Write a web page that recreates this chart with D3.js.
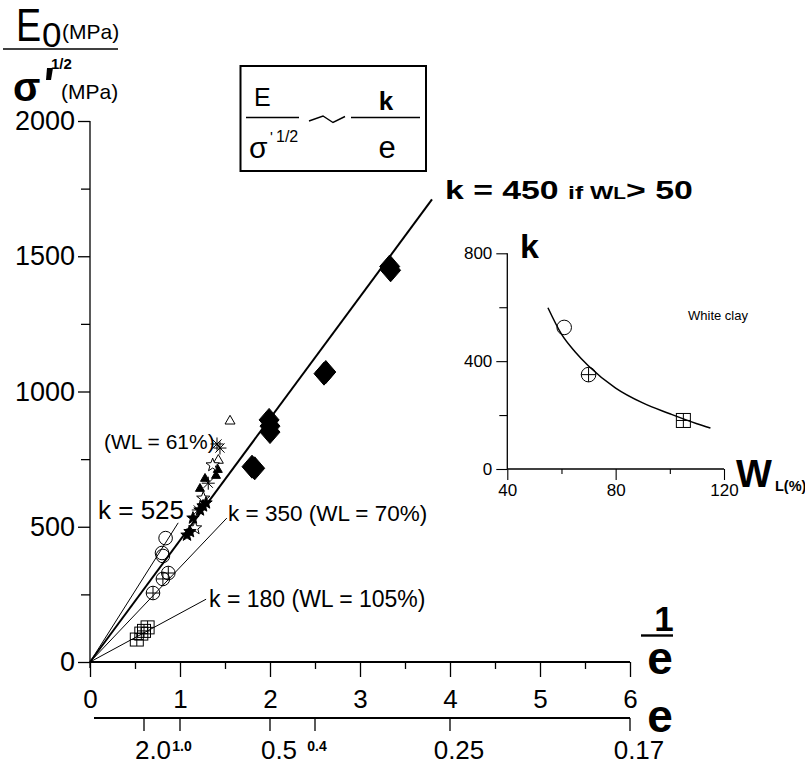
<!DOCTYPE html>
<html><head><meta charset="utf-8">
<script src="https://cdn.jsdelivr.net/npm/d3@7"></script>
<style>
body{margin:0;background:#fff}
svg{display:block;font-family:"Liberation Sans",Arial,Helvetica,sans-serif}
</style>
</head><body>
<svg id="chart" width="805" height="766"></svg>
<script>
// ---- main chart: E0 / sigma'^1/2 versus 1/e ----
const xTicks = [0, 1, 2, 3, 4, 5, 6];
const xMinorTicks = [0.5, 1.5, 2.5, 3.5, 4.5, 5.5];
const yTicks = [0, 500, 1000, 1500, 2000];
const yMinorTicks = [250, 750, 1250, 1750];
// secondary scale: void ratio e placed at its 1/e position
const eTickPos = [0.6, 1, 2, 2.5, 4, 6];
const eTickLabels = ["2.0", "1.0", "0.5", "0.4", "0.25", "0.17"];
const eTickSmall = [false, true, false, true, false, false];

// straight lines E/sigma^1/2 = k * (1/e)
const kLineValues = [525, 450, 350, 180];
const kLineEnds = [0.98, 3.80, 1.52, 1.29];

// measured points (x = 1/e, y = E0/sigma'^1/2)
const diamondX = [3.33, 3.34, 2.62, 2.60, 1.99, 2.00, 2.00, 1.80, 1.83];
const diamondY = [1462, 1448, 1072, 1066, 895, 872, 850, 722, 716];
const circleX = [0.84, 0.80, 0.81];
const circleY = [458, 403, 392];
const crossCircleX = [0.87, 0.81, 0.70];
const crossCircleY = [329, 307, 255];
const boxX = [0.64, 0.60, 0.57, 0.52];
const boxY = [128, 115, 105, 83];
const openTriX = [1.556, 1.426];
const openTriY = [892, 747];
const filledTriX = [1.42, 1.40, 1.278, 1.222];
const filledTriY = [712, 690, 679, 642];
const asteriskX = [1.444, 1.411, 1.314, 1.203];
const asteriskY = [791, 806, 661, 562];
const openStarX = [1.363, 1.259, 1.167];
const openStarY = [728, 605, 495];
const filledStarX = [1.256, 1.222, 1.289, 1.144, 1.111, 1.078];
const filledStarY = [577, 562, 588, 532, 482, 469];

// ---- inset: k versus liquid limit ----
const insetWL = [61, 70, 105];
const insetK = [525, 350, 180];
const fitWL = [55, 60, 65, 70, 80, 90, 100, 110, 115];
const fitK = [598, 500, 435, 382, 300, 245, 205, 168, 152];
const insetXTicks = [40, 80, 120];
const insetXMinor = [60, 100];
const insetYTicks = [0, 400, 800];
const insetYMinor = [200, 600];

const svg = d3.select("#chart");
const x = d3.scaleLinear().domain([0, 6]).range([90, 630]);
const y = d3.scaleLinear().domain([0, 2000]).range([662, 121]);

function txt(g, px, py, s, size, opt = {}) {
  return g.append("text").attr("x", px).attr("y", py)
    .attr("font-size", size)
    .attr("font-weight", opt.bold ? "bold" : "normal")
    .attr("text-anchor", opt.anchor || "start")
    .attr("fill", "#000").text(s);
}
function styleAxis(g, size) {
  g.attr("font-family", null).attr("font-size", null);
  g.select(".domain").remove();
  g.selectAll(".tick line").attr("stroke", "#000").attr("stroke-width", 1.3);
  g.selectAll(".tick text").attr("font-size", size).attr("fill", "#000");
}

// ---- axes ----
const gx = svg.append("g").attr("transform", `translate(0,${y(0)})`)
  .call(d3.axisBottom(x).tickValues(xTicks).tickSize(15).tickPadding(13)
    .tickFormat(d3.format("d")).tickSizeOuter(0));
styleAxis(gx, 26);
const gxm = svg.append("g").attr("transform", `translate(0,${y(0)})`)
  .call(d3.axisBottom(x).tickValues(xMinorTicks).tickSize(7).tickFormat("").tickSizeOuter(0));
styleAxis(gxm, 0);

const gy = svg.append("g").attr("transform", `translate(${x(0)},0)`)
  .call(d3.axisLeft(y).tickValues(yTicks).tickSize(12).tickPadding(3)
    .tickFormat(d3.format("d")).tickSizeOuter(0));
styleAxis(gy, 27);
const gym = svg.append("g").attr("transform", `translate(${x(0)},0)`)
  .call(d3.axisLeft(y).tickValues(yMinorTicks).tickSize(9).tickFormat("").tickSizeOuter(0));
styleAxis(gym, 0);

svg.append("line").attr("x1", x(0)).attr("x2", x(6)).attr("y1", y(0)).attr("y2", y(0))
  .attr("stroke", "#000").attr("stroke-width", 1.8);
svg.append("line").attr("x1", x(0)).attr("x2", x(0)).attr("y1", y(0) + 6).attr("y2", y(2000))
  .attr("stroke", "#000").attr("stroke-width", 1.3);

// secondary e scale
const eY = 718;
svg.append("line").attr("x1", 94).attr("x2", x(6)).attr("y1", eY).attr("y2", eY)
  .attr("stroke", "#000").attr("stroke-width", 1.8);
const eg = svg.append("g");
eTickPos.forEach((p, i) => {
  eg.append("line").attr("x1", x(p)).attr("x2", x(p)).attr("y1", eY).attr("y2", eY + 13)
    .attr("stroke", "#000").attr("stroke-width", 1.3);
  if (eTickSmall[i]) txt(eg, x(p) + 2, 751, eTickLabels[i], 14, {bold: true, anchor: "middle"});
  else txt(eg, x(p) + 9, 759, eTickLabels[i], 26, {anchor: "middle"});
});

// axis titles on the right
txt(svg, 664, 631, "1", 35, {bold: true, anchor: "middle"});
svg.append("line").attr("x1", 641).attr("x2", 673).attr("y1", 635.5).attr("y2", 635.5)
  .attr("stroke", "#000").attr("stroke-width", 2.4);
txt(svg, 660, 674, "e", 46, {bold: true, anchor: "middle"});
txt(svg, 660, 732, "e", 46, {bold: true, anchor: "middle"});

// y title
svg.append("text").attr("transform", "translate(16,41) scale(0.82,1)")
  .attr("font-size", 46).attr("fill", "#000").text("E");
txt(svg, 42, 47, "0", 35);
txt(svg, 62, 39, "(MPa)", 21);
svg.append("line").attr("x1", 3).attr("x2", 118).attr("y1", 49).attr("y2", 49)
  .attr("stroke", "#000").attr("stroke-width", 1.6);
txt(svg, 13, 101, "σ", 40, {bold: true});
svg.append("path").attr("d", "M47,68 L53,68 L51,80 L46,80 Z").attr("fill", "#000");
txt(svg, 51, 69, "1/2", 15, {bold: true});
txt(svg, 61, 99, "(MPa)", 21);

// formula box
svg.append("rect").attr("x", 240.5).attr("y", 66).attr("width", 185.5).attr("height", 105)
  .attr("fill", "#fff").attr("stroke", "#000").attr("stroke-width", 2);
txt(svg, 254, 106, "E", 25);
svg.append("line").attr("x1", 246).attr("x2", 299).attr("y1", 117.5).attr("y2", 117.5)
  .attr("stroke", "#000").attr("stroke-width", 1.5);
txt(svg, 249, 158, "σ", 30);
txt(svg, 270, 142, "'", 15);
txt(svg, 276, 142, "1/2", 16);
svg.append("polyline").attr("points", "309,121 323,116 333,122.5 345,116.5")
  .attr("fill", "none").attr("stroke", "#000").attr("stroke-width", 1.4);
svg.append("line").attr("x1", 351).attr("x2", 420).attr("y1", 117.5).attr("y2", 117.5)
  .attr("stroke", "#000").attr("stroke-width", 1.5);
txt(svg, 386, 110, "k", 26, {bold: true, anchor: "middle"});
txt(svg, 387, 158, "e", 31, {anchor: "middle"});

// ---- k lines ----
kLineValues.forEach((k, i) => {
  svg.append("line").attr("x1", x(0)).attr("y1", y(0))
    .attr("x2", x(kLineEnds[i])).attr("y2", y(k * kLineEnds[i]))
    .attr("stroke", "#000").attr("stroke-width", k === 450 ? 2 : 1);
});

// labels for the lines
const k450 = svg.append("text").attr("transform", "translate(445,199) scale(1.3,1)")
  .attr("font-size", 26).attr("font-weight", "bold").attr("fill", "#000");
k450.append("tspan").text("k = 450 ");
k450.append("tspan").attr("font-size", 19).text("if W");
k450.append("tspan").attr("font-size", 16).text("L");
k450.append("tspan").text("> 50");
txt(svg, 104, 449, "(WL = 61%)", 21);
txt(svg, 98, 519, "k = 525", 26);
txt(svg, 228, 521, "k = 350 (WL = 70%)", 22.5);
txt(svg, 209, 607, "k = 180 (WL = 105%)", 23);

// ---- markers ----
const pts = (xs, ys) => xs.map((v, i) => [x(v), y(ys[i])]);
const mk = svg.append("g").attr("stroke", "#000").attr("stroke-width", 1);

function starPath(cx, cy, R) {
  const r = R * 0.42; let d = "";
  for (let j = 0; j < 10; j++) {
    const a = -Math.PI / 2 + j * Math.PI / 5, rr = j % 2 ? r : R;
    d += (j ? "L" : "M") + (cx + rr * Math.cos(a)).toFixed(2) + "," + (cy + rr * Math.sin(a)).toFixed(2);
  }
  return d + "Z";
}
function triPath(cx, cy, s) {
  const h = s * 0.87;
  return `M${cx},${cy - h * 0.62}L${cx + s / 2},${cy + h * 0.38}L${cx - s / 2},${cy + h * 0.38}Z`;
}

pts(diamondX, diamondY).forEach(([cx, cy]) => {
  mk.append("path").attr("d", `M${cx},${cy - 11.5}L${cx + 10},${cy}L${cx},${cy + 11.5}L${cx - 10},${cy}Z`)
    .attr("fill", "#000");
});
pts(circleX, circleY).forEach(([cx, cy]) => {
  mk.append("circle").attr("cx", cx).attr("cy", cy).attr("r", 6.8).attr("fill", "none");
});
pts(crossCircleX, crossCircleY).forEach(([cx, cy]) => {
  mk.append("circle").attr("cx", cx).attr("cy", cy).attr("r", 6.8).attr("fill", "none");
  mk.append("path").attr("d", `M${cx - 6.8},${cy}H${cx + 6.8}M${cx},${cy - 6.8}V${cy + 6.8}`);
});
pts(boxX, boxY).forEach(([cx, cy]) => {
  mk.append("rect").attr("x", cx - 6.5).attr("y", cy - 6.5).attr("width", 13).attr("height", 13).attr("fill", "none");
  mk.append("path").attr("d", `M${cx - 6.5},${cy}H${cx + 6.5}M${cx},${cy - 6.5}V${cy + 6.5}`);
});
pts(openTriX, openTriY).forEach(([cx, cy]) => {
  mk.append("path").attr("d", triPath(cx, cy, 10)).attr("fill", "#fff");
});
pts(filledTriX, filledTriY).forEach(([cx, cy]) => {
  mk.append("path").attr("d", triPath(cx, cy, 9)).attr("fill", "#000");
});
pts(openStarX, openStarY).forEach(([cx, cy]) => {
  mk.append("path").attr("d", starPath(cx, cy, 7)).attr("fill", "#fff");
});
pts(filledStarX, filledStarY).forEach(([cx, cy]) => {
  mk.append("path").attr("d", starPath(cx, cy, 6.5)).attr("fill", "#000");
});
pts(asteriskX, asteriskY).forEach(([cx, cy]) => {
  let d = "";
  for (let j = 0; j < 4; j++) {
    const a = j * Math.PI / 4, dx = 6.5 * Math.cos(a), dy = 6.5 * Math.sin(a);
    d += `M${cx - dx},${cy - dy}L${cx + dx},${cy + dy}`;
  }
  mk.append("path").attr("d", d).attr("fill", "none");
});

// ---- inset chart ----
const xi = d3.scaleLinear().domain([40, 120]).range([507.3, 724]);
const yi = d3.scaleLinear().domain([0, 800]).range([469, 253.3]);
const ins = svg.append("g");
const gix = ins.append("g").attr("transform", `translate(0,${yi(0)})`)
  .call(d3.axisBottom(xi).tickValues(insetXTicks).tickSize(11).tickPadding(4)
    .tickFormat(d3.format("d")).tickSizeOuter(0));
styleAxis(gix, 17);
const gixm = ins.append("g").attr("transform", `translate(0,${yi(0)})`)
  .call(d3.axisBottom(xi).tickValues(insetXMinor).tickSize(5).tickFormat("").tickSizeOuter(0));
styleAxis(gixm, 0);
const giy = ins.append("g").attr("transform", `translate(${xi(40)},0)`)
  .call(d3.axisLeft(yi).tickValues(insetYTicks).tickSize(11).tickPadding(4)
    .tickFormat(d3.format("d")).tickSizeOuter(0));
styleAxis(giy, 17);
const giym = ins.append("g").attr("transform", `translate(${xi(40)},0)`)
  .call(d3.axisLeft(yi).tickValues(insetYMinor).tickSize(8).tickFormat("").tickSizeOuter(0));
styleAxis(giym, 0);
ins.selectAll(".tick line").attr("stroke-width", 1.1);
ins.append("line").attr("x1", xi(40)).attr("x2", xi(120)).attr("y1", yi(0)).attr("y2", yi(0))
  .attr("stroke", "#000").attr("stroke-width", 1.3);
ins.append("line").attr("x1", xi(40)).attr("x2", xi(40)).attr("y1", yi(0)).attr("y2", yi(800))
  .attr("stroke", "#000").attr("stroke-width", 1.3);

const fitLine = d3.line().x((d, i) => xi(d)).y((d, i) => yi(fitK[i])).curve(d3.curveMonotoneX);
ins.append("path").attr("d", fitLine(fitWL)).attr("fill", "none")
  .attr("stroke", "#000").attr("stroke-width", 1.5);

const ip = insetWL.map((v, i) => [xi(v), yi(insetK[i])]);
ins.append("circle").attr("cx", ip[0][0]).attr("cy", ip[0][1]).attr("r", 7.3)
  .attr("fill", "none").attr("stroke", "#000");
ins.append("circle").attr("cx", ip[1][0]).attr("cy", ip[1][1]).attr("r", 7.3)
  .attr("fill", "none").attr("stroke", "#000");
ins.append("path").attr("d", `M${ip[1][0] - 7.3},${ip[1][1]}H${ip[1][0] + 7.3}M${ip[1][0]},${ip[1][1] - 7.3}V${ip[1][1] + 7.3}`)
  .attr("stroke", "#000");
ins.append("rect").attr("x", ip[2][0] - 7).attr("y", ip[2][1] - 7).attr("width", 14).attr("height", 14)
  .attr("fill", "none").attr("stroke", "#000");
ins.append("path").attr("d", `M${ip[2][0] - 7},${ip[2][1]}H${ip[2][0] + 7}M${ip[2][0]},${ip[2][1] - 7}V${ip[2][1] + 7}`)
  .attr("stroke", "#000");

txt(ins, 520, 258, "k", 34, {bold: true});
txt(ins, 736, 487, "W", 38, {bold: true});
txt(ins, 775, 491, "L(%)", 14.5, {bold: true});
txt(ins, 688, 320, "White clay", 13);
</script>
</body></html>
